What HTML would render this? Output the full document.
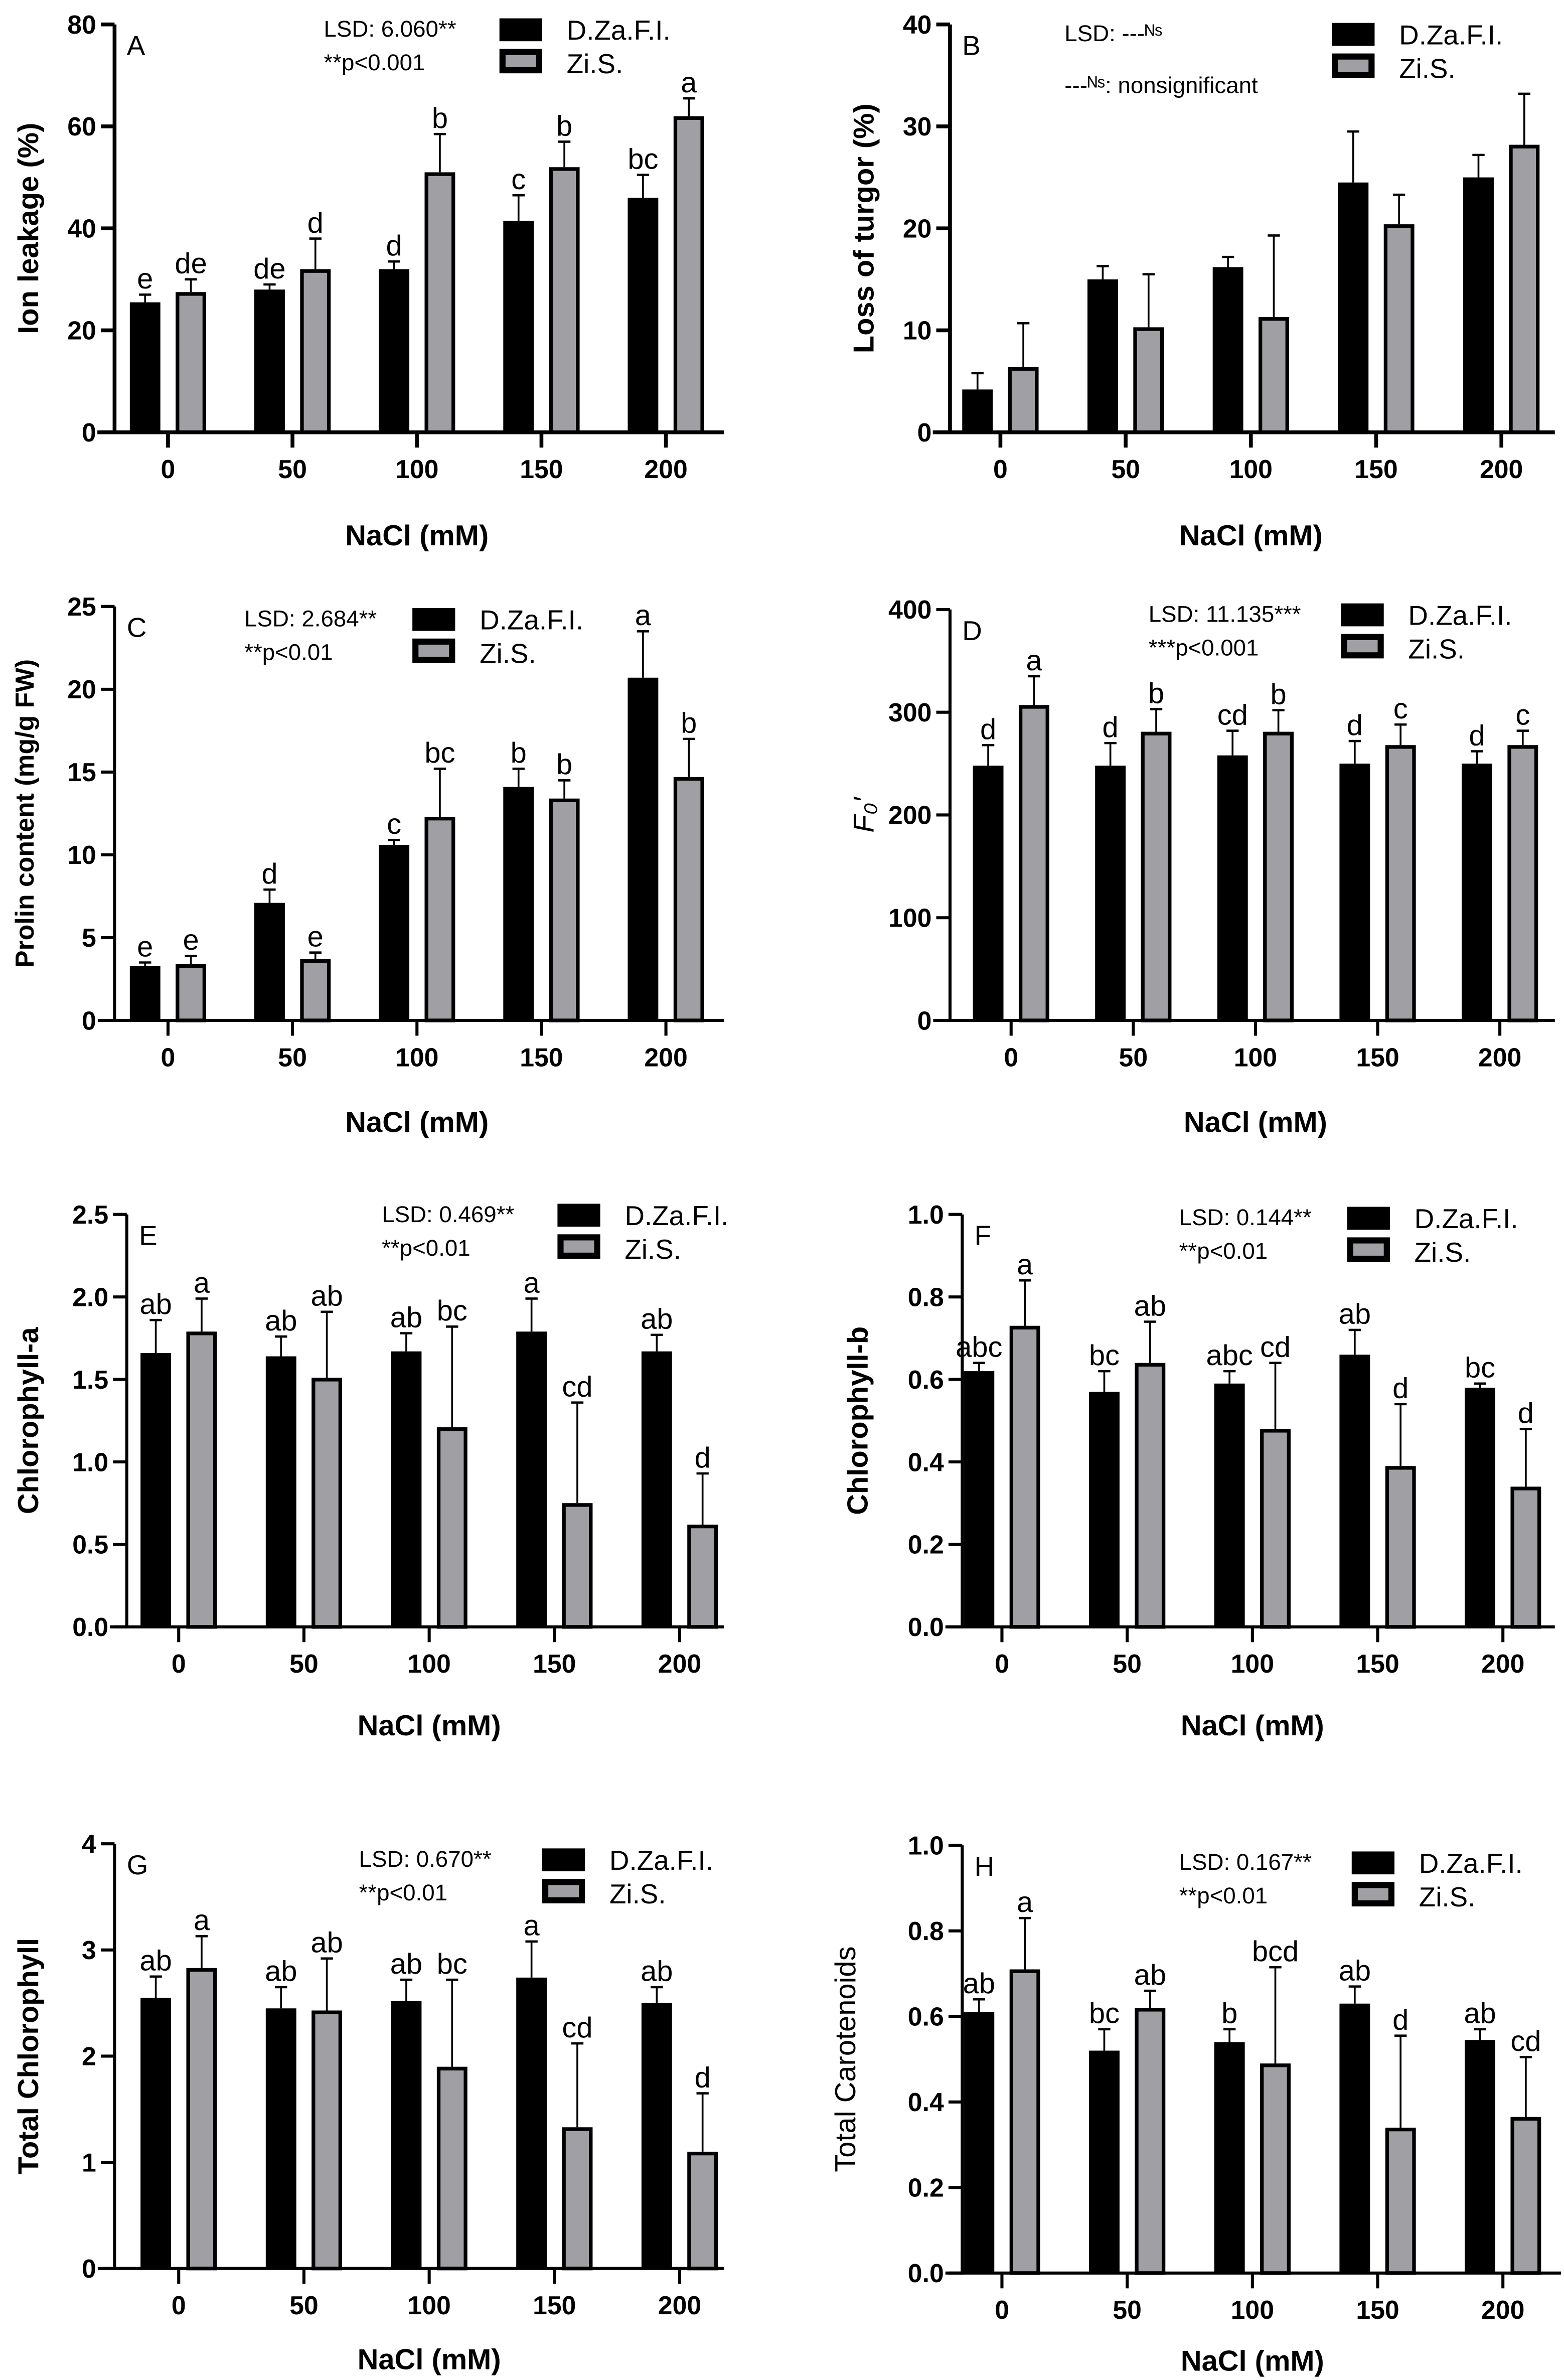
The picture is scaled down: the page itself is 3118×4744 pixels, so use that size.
<!DOCTYPE html>
<html><head><meta charset="utf-8"><style>
html,body{margin:0;padding:0;background:#fff;}
svg{display:block;}
text{font-family:"Liberation Sans",sans-serif;}
</style></head>
<body>
<svg id="fig" width="3118" height="4744" viewBox="0 0 1024 1558" preserveAspectRatio="none" xmlns="http://www.w3.org/2000/svg"></svg>
<script>
const categories = ["0","50","100","150","200"];
// Panel A
const aBlack=[25.5,28,32,41.5,46], aBlackErr=[27,29,33.5,46.5,50.5];
const aGray=[27.5,32,51,52,62], aGrayErr=[30,38,58.5,57,65.5];
const aLetB=["e","de","d","c","bc"], aLetG=["de","d","b","b","a"];
const aTicks=[0,20,40,60,80];
// Panel B
const bBlack=[4.2,15,16.2,24.5,25], bBlackErr=[5.8,16.3,17.2,29.5,27.2];
const bGray=[6.4,10.3,11.3,20.4,28.2], bGrayErr=[10.7,15.5,19.3,23.3,33.2];
const bTicks=[0,10,20,30,40];
// Panel C
const cBlack=[3.3,7.1,10.6,14.1,20.7], cBlackErr=[3.5,7.9,10.9,15.2,23.5];
const cGray=[3.4,3.7,12.3,13.4,14.7], cGrayErr=[3.9,4.1,15.2,14.5,17];
const cLetB=["e","d","c","b","a"], cLetG=["e","e","bc","b","b"];
const cTicks=[0,5,10,15,20,25];
// Panel D
const dBlack=[248,248,258,250,250], dBlackErr=[268,270,282,272,262];
const dGray=[307,281,281,268,268], dGrayErr=[335,303,302,288,282];
const dLetB=["d","d","cd","d","d"], dLetG=["a","b","b","c","c"];
const dTicks=[0,100,200,300,400];
// Panel E
const eBlack=[1.66,1.64,1.67,1.79,1.67], eBlackErr=[1.86,1.76,1.78,1.99,1.77];
const eGray=[1.79,1.51,1.21,0.75,0.62], eGrayErr=[1.99,1.91,1.82,1.36,0.93];
const eLetB=["ab","ab","ab","a","ab"], eLetG=["a","ab","bc","cd","d"];
const eTicks=[0,0.5,1.0,1.5,2.0,2.5];
// Panel F
const fBlack=[0.62,0.57,0.59,0.66,0.58], fBlackErr=[0.64,0.62,0.62,0.72,0.59];
const fGray=[0.73,0.64,0.48,0.39,0.34], fGrayErr=[0.84,0.74,0.64,0.54,0.48];
const fLetB=["abc","bc","abc","ab","bc"], fLetG=["a","ab","cd","d","d"];
const fTicks=[0,0.2,0.4,0.6,0.8,1.0];
// Panel G
const gBlack=[2.55,2.45,2.52,2.74,2.5], gBlackErr=[2.75,2.65,2.72,3.08,2.65];
const gGray=[2.83,2.43,1.9,1.33,1.1], gGrayErr=[3.13,2.92,2.72,2.12,1.65];
const gLetB=["ab","ab","ab","a","ab"], gLetG=["a","ab","bc","cd","d"];
const gTicks=[0,1,2,3,4];
// Panel H
const hBlack=[0.61,0.52,0.54,0.63,0.545], hBlackErr=[0.64,0.57,0.57,0.67,0.57];
const hGray=[0.71,0.62,0.49,0.34,0.365], hGrayErr=[0.83,0.66,0.715,0.555,0.505];
const hLetB=["ab","bc","b","ab","ab"], hLetG=["a","ab","bcd","d","cd"];
const hTicks=[0,0.2,0.4,0.6,0.8,1.0];

const NS="http://www.w3.org/2000/svg";
const svg=document.getElementById('fig');
function mk(tag,attrs,parent,txt){const e=document.createElementNS(NS,tag);for(const k in attrs)e.setAttribute(k,attrs[k]);if(txt!==undefined)e.textContent=txt;(parent||svg).appendChild(e);return e;}

function panel(cfg){
  const g=mk('g',{});
  
  
  const max=cfg.ticks[cfg.ticks.length-1];
  const y=v=>cfg.y0-(v/max)*(cfg.y0-cfg.yTop);
  const xs=i=>cfg.x0+i*cfg.dx;
  for(let i=0;i<categories.length;i++){
    const cx=xs(i);
    [[cfg.black,cfg.blackErr,-15,'#000',cfg.letB],[cfg.gray,cfg.grayErr,15,'#a0a0a4',cfg.letG]].forEach((s,si)=>{
      const v=s[0][i],ev=s[1][i],bx=cx+s[2]-10,by=y(v);
      const eb=mk('line',{x1:cx+s[2],x2:cx+s[2],y1:y(ev),y2:by,stroke:'#000','stroke-width':1.2},g);
      
      
      mk('line',{x1:cx+s[2]-4,x2:cx+s[2]+4,y1:y(ev),y2:y(ev),stroke:'#000','stroke-width':1.5},g);
      const r=mk('rect',{x:si?bx+1.2:bx,y:si?by+1.2:by,width:si?17.6:20,height:si?cfg.y0-by-1.2:cfg.y0-by,fill:s[3],stroke:si?'#000':'none','stroke-width':si?2.4:0},g);
      
      
      if(s[4]){
        const t=mk('text',{x:cx+s[2],y:y(ev)-4,'text-anchor':'middle','font-size':19,fill:'#000'},g,s[4][i]);
        
        
      }
    });
  }
  const ya=mk('line',{x1:cfg.ax,x2:cfg.ax,y1:cfg.yTop,y2:cfg.y0+1,stroke:'#000','stroke-width':cfg.lw},g);
  
  
  const xa=mk('line',{x1:cfg.ax-cfg.lw/2-10,x2:cfg.xEnd,y1:cfg.y0,y2:cfg.y0,stroke:'#000','stroke-width':cfg.lw},g);
  
  
  cfg.ticks.forEach(t=>{
    mk('line',{x1:cfg.ax-9,x2:cfg.ax,y1:y(t),y2:y(t),stroke:'#000','stroke-width':cfg.lw},g);
    const tl=mk('text',{x:cfg.ax-12,y:y(t)+6,'text-anchor':'end','font-size':17,'font-weight':'bold'},g,cfg.fmt(t));
    
    
  });
  categories.forEach((c,i)=>{
    mk('line',{x1:xs(i),x2:xs(i),y1:cfg.y0,y2:cfg.y0+10,stroke:'#000','stroke-width':cfg.lw},g);
    const tl=mk('text',{x:xs(i),y:cfg.y0+30,'text-anchor':'middle','font-size':17,'font-weight':'bold'},g,c);
    
    
  });
  const xt=mk('text',{x:cfg.x0+2*cfg.dx,y:cfg.xTitleY,'text-anchor':'middle','font-size':19,'font-weight':'bold'},g,'NaCl (mM)');
  
  
  const ymid=(cfg.yTop+cfg.y0)/2;
  const yt=mk('text',{x:0,y:0,'text-anchor':'middle','font-size':cfg.ytSize||19,'font-weight':cfg.ytWeight||'bold','font-style':cfg.ytStyle||'normal',transform:`translate(${cfg.ytX},${ymid}) rotate(-90)`},g,cfg.ytitle);
  
  
  const pl=mk('text',{x:cfg.ax+8,y:cfg.yTop+20,'font-size':18},g,cfg.id);
  
  
  const L=cfg.leg;
  const l1=mk('text',{x:L.tx,y:L.y+12,'font-size':15},g,L.lsd);
  
  
  const l2=mk('text',{x:L.tx,y:L.y+34,'font-size':15},g,L.p);
  
  
  const s1=mk('rect',{x:L.bx,y:L.y,width:28,height:15,fill:'#000'},g);
  
  
  const s2=mk('rect',{x:L.bx+2,y:L.y+22,width:24,height:12,fill:'#a0a0a4',stroke:'#000','stroke-width':4},g);
  
  
  const e1=mk('text',{x:L.bx+44,y:L.y+14,'font-size':18},g,'D.Za.F.I.');
  
  
  const e2=mk('text',{x:L.bx+44,y:L.y+36,'font-size':18},g,'Zi.S.');
  
  
  return g;
}
const f0=t=>String(t), f1=t=>t.toFixed(1);
panel({id:'A',ax:75,x0:110,dx:81.5,y0:283,yTop:16,xEnd:474,lw:2.5,ticks:aTicks,fmt:f0,black:aBlack,blackErr:aBlackErr,gray:aGray,grayErr:aGrayErr,letB:aLetB,letG:aLetG,xTitleY:357,ytX:25,ytitle:'Ion leakage (%)',leg:{tx:212,bx:327,y:12,lsd:'LSD: 6.060**',p:'**p<0.001'}});
panel({id:'B',ax:622,x0:655,dx:82,y0:283,yTop:16,xEnd:1018,lw:2.5,ticks:bTicks,fmt:f0,black:bBlack,blackErr:bBlackErr,gray:bGray,grayErr:bGrayErr,xTitleY:357,ytX:572,ytitle:'Loss of turgor (%)',leg:{tx:697,bx:872,y:15,lsd:'LSD: ---ᴺˢ',p:''}});
panel({id:'C',ax:75,x0:110,dx:81.5,y0:668,yTop:397,xEnd:474,lw:2,ticks:cTicks,fmt:f0,black:cBlack,blackErr:cBlackErr,gray:cGray,grayErr:cGrayErr,letB:cLetB,letG:cLetG,xTitleY:741,ytX:22,ytSize:17,ytitle:'Prolin content (mg/g FW)',leg:{tx:160,bx:270,y:398,lsd:'LSD: 2.684**',p:'**p<0.01'}});
panel({id:'D',ax:622,x0:662,dx:80,y0:668,yTop:399,xEnd:1018,lw:2,ticks:dTicks,fmt:f0,black:dBlack,blackErr:dBlackErr,gray:dGray,grayErr:dGrayErr,letB:dLetB,letG:dLetG,xTitleY:741,ytX:572,ytStyle:'italic',ytWeight:'normal',ytitle:'F₀′',leg:{tx:752,bx:878,y:395,lsd:'LSD: 11.135***',p:'***p<0.001'}});
panel({id:'E',ax:83,x0:117,dx:82,y0:1065,yTop:795,xEnd:474,lw:2,ticks:eTicks,fmt:f1,black:eBlack,blackErr:eBlackErr,gray:eGray,grayErr:eGrayErr,letB:eLetB,letG:eLetG,xTitleY:1136,ytX:25,ytitle:'Chlorophyll-a',leg:{tx:250,bx:365,y:788,lsd:'LSD: 0.469**',p:'**p<0.01'}});
panel({id:'F',ax:630,x0:656,dx:82,y0:1065,yTop:795,xEnd:1018,lw:2,ticks:fTicks,fmt:f1,black:fBlack,blackErr:fBlackErr,gray:fGray,grayErr:fGrayErr,letB:fLetB,letG:fLetG,xTitleY:1136,ytX:568,ytitle:'Chlorophyll-b',leg:{tx:772,bx:882,y:790,lsd:'LSD: 0.144**',p:'**p<0.01'}});
panel({id:'G',ax:75,x0:117,dx:82,y0:1485,yTop:1207,xEnd:474,lw:2,ticks:gTicks,fmt:f0,black:gBlack,blackErr:gBlackErr,gray:gGray,grayErr:gGrayErr,letB:gLetB,letG:gLetG,xTitleY:1551,ytX:25,ytitle:'Total Chlorophyll',leg:{tx:235,bx:355,y:1210,lsd:'LSD: 0.670**',p:'**p<0.01'}});
panel({id:'H',ax:630,x0:656,dx:82,y0:1488,yTop:1208,xEnd:1022,lw:2,ticks:hTicks,fmt:f1,black:hBlack,blackErr:hBlackErr,gray:hGray,grayErr:hGrayErr,letB:hLetB,letG:hLetG,xTitleY:1552,ytX:560,ytWeight:'normal',ytitle:'Total Carotenoids',leg:{tx:772,bx:885,y:1212,lsd:'LSD: 0.167**',p:'**p<0.01'}});
const ns=mk('text',{x:697,y:61,'font-size':15},svg,'---ᴺˢ: nonsignificant');


</script>
</body></html>
